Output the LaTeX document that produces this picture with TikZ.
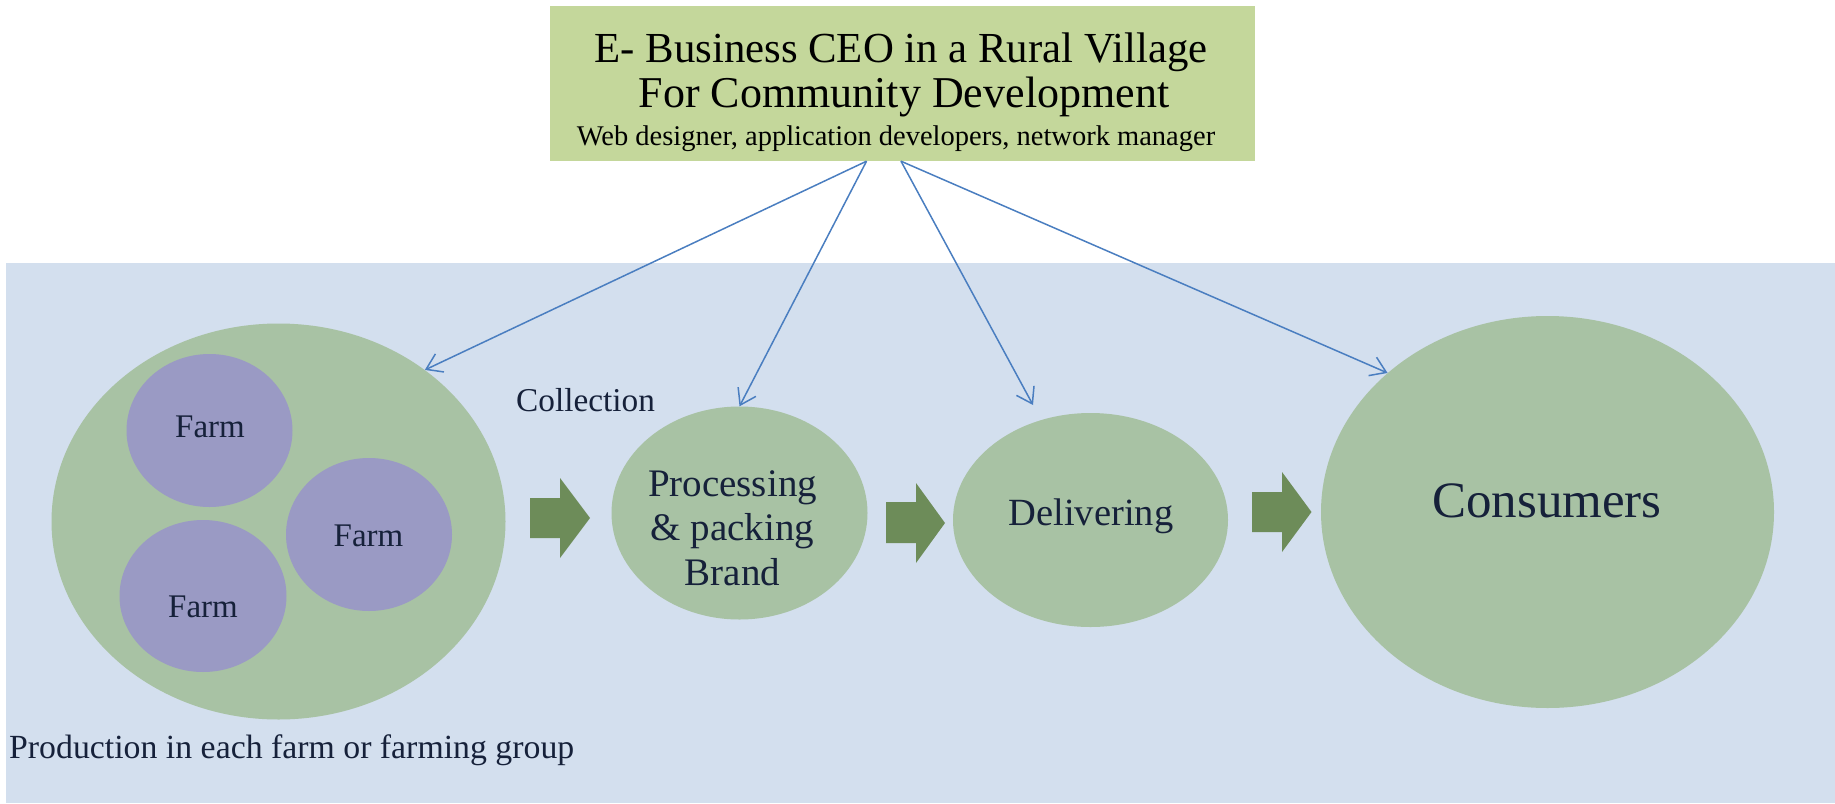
\documentclass[tikz,border=0pt]{standalone}
\usepackage{fontspec}
\setmainfont{Liberation Serif}
\usetikzlibrary{shapes.geometric,arrows.meta}
\definecolor{bgblue}{HTML}{D3DFEE}
\definecolor{ceogreen}{HTML}{C4D79B}
\definecolor{ellgreen}{HTML}{A8C2A4}
\definecolor{farmblue}{HTML}{9A9AC4}
\definecolor{blockgreen}{HTML}{6D8C59}
\definecolor{linkblue}{HTML}{4A7EC0}
\definecolor{navytext}{HTML}{16213A}
\tikzset{
  ceobox/.style={rectangle, fill=ceogreen, inner sep=0pt},
  ellnode/.style={ellipse, fill=ellgreen, inner sep=0pt},
  farmnode/.style={ellipse, fill=farmblue, inner sep=0pt},
  lbl/.style={anchor=base, inner sep=0pt, text=navytext},
  toplbl/.style={anchor=base, inner sep=0pt, text=black},
  conn/.style={draw=linkblue, line width=1.5pt, -{Straight Barb[length=15pt,width=20pt,line width=1.5pt]}},
  blockarrow/.style={fill=blockgreen}
}
\newcommand{\fs}[1]{\fontsize{#1}{#1}\selectfont}
\begin{document}
\begin{tikzpicture}[x=1pt,y=-1pt]
\useasboundingbox (0,0) rectangle (1835,803);
\fill[bgblue] (6,263) rectangle (1835,803);

% top box
\node[ceobox, minimum width=705pt, minimum height=155pt] (ceo) at (902.5,83.5) {};
\node[toplbl, font=\fs{42.8}] (t1) at (901,62) {E- Business CEO in a Rural Village};
\node[toplbl, font=\fs{44}] (t2) at (904,107) {For Community Development};
\node[toplbl, font=\fs{28.5}] (t3) at (896,145) {Web designer, application developers, network manager};

% producer group
\node[ellnode, minimum width=454pt, minimum height=396pt] (group) at (278.5,521.5) {};
\node[farmnode, minimum width=166pt, minimum height=153pt] (farm1) at (209.5,430.5) {};
\node[farmnode, minimum width=166pt, minimum height=153pt] (farm2) at (369,534.5) {};
\node[farmnode, minimum width=167pt, minimum height=152pt] (farm3) at (203,596) {};
\node[lbl, font=\fs{33}] (f1) at (210,437) {Farm};
\node[lbl, font=\fs{33}] (f2) at (368.5,546) {Farm};
\node[lbl, font=\fs{33}] (f3) at (203,617) {Farm};
\node[lbl, font=\fs{33.8}, anchor=base west] (prodlbl) at (9,758) {Production in each farm or farming group};
\node[lbl, font=\fs{33.3}, anchor=base west] (coll) at (516,411) {Collection};

% processing, delivering, consumers
\node[ellnode, minimum width=256pt, minimum height=213pt] (proc) at (739.5,513) {};
\node[lbl, font=\fs{39}, align=center] (proctxt) at (732.5,585) {Processing\\[5.5pt]\& packing\\[5.5pt]Brand};
\node[ellnode, minimum width=275pt, minimum height=214pt] (deliv) at (1090.5,520) {};
\node[lbl, font=\fs{38.5}] (delivtxt) at (1091,525) {Delivering};
\node[ellnode, minimum width=453pt, minimum height=392pt] (cons) at (1547.5,512) {};
\node[lbl, font=\fs{51}] (constxt) at (1547,517) {Consumers};

% block arrows
\fill[blockgreen] (530,498) -- (560,498) -- (560,478) -- (590,518) -- (560,558) -- (560,538) -- (530,538) -- cycle;
\fill[blockgreen] (886,502) -- (916,502) -- (916,483) -- (945,523) -- (916,563) -- (916,543) -- (886,543) -- cycle;
\fill[blockgreen] (1252,492) -- (1282,492) -- (1282,472) -- (1311.5,512) -- (1282,552) -- (1282,532) -- (1252,532) -- cycle;

% connectors from the CEO box
\coordinate (sL) at ([xshift=-36pt]ceo.south);
\coordinate (sR) at ([xshift=-1.5pt]ceo.south);
\coordinate (dtip) at (1033,405);
\draw[conn] (sL) -- (group.46.9);
\draw[conn] (sL) -- (proc.north);
\draw[conn] (sR) -- (dtip);
\draw[conn] (sR) -- (cons.139.1);
\end{tikzpicture}
\end{document}
